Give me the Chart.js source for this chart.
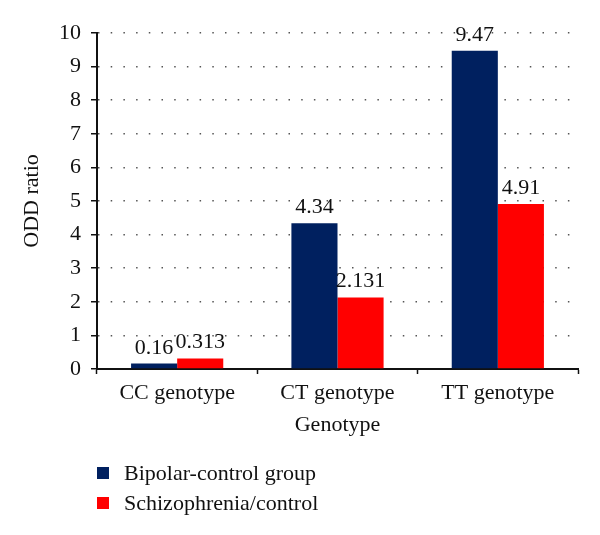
<!DOCTYPE html>
<html lang="en">
<head>
  <meta charset="UTF-8" />
  <title>ODD ratio by genotype</title>
  <script src="https://cdn.jsdelivr.net/npm/chart.js"></script>
  <style>
    body {
      margin: 0;
      background: #fff;
      font-family: 'Liberation Serif', serif;
    }
    #wrap {
      position: relative;
      width: 600px;
      height: 535px;
    }
    /* legend sits under the plot, one item per row */
    #legend {
      position: absolute;
      left: 97px;
      top: 458px;
      font-size: 22px;
      color: #111;
    }
    #legend .item {
      display: flex;
      align-items: center;
      height: 30px;
    }
    #legend .box {
      width: 12px;
      height: 12px;
      margin-right: 15px;
    }
  </style>
</head>
<body>
  <div id="wrap">
    <canvas id="oddChart" width="600" height="535"></canvas>
    <div id="legend"></div>
  </div>

  <script>
    const categories = ['CC genotype', 'CT genotype', 'TT genotype'];
    const seriesNames = ['Bipolar-control group', 'Schizophrenia/control'];
    const bipolarValues = [0.16, 4.34, 9.47];
    const schizoValues = [0.313, 2.131, 4.91];
    const valueLabels = [['0.16', '4.34', '9.47'], ['0.313', '2.131', '4.91']];
    const seriesColors = ['#00205f', '#ff0000'];

    const fontFamily = "'Liberation Serif', serif";

    // writes the value over each bar
    const barValues = {
      id: 'barValues',
      afterDatasetsDraw(chart) {
        const ctx = chart.ctx;
        ctx.save();
        ctx.font = '22px ' + fontFamily;
        ctx.fillStyle = '#111';
        ctx.textAlign = 'center';
        ctx.textBaseline = 'alphabetic';
        chart.data.datasets.forEach((ds, d) => {
          chart.getDatasetMeta(d).data.forEach((bar, i) => {
            ctx.fillText(valueLabels[d][i], bar.x, bar.y - 10);
          });
        });
        ctx.restore();
      }
    };

    const chart = new Chart(document.getElementById('oddChart'), {
      type: 'bar',
      data: {
        labels: categories,
        datasets: [
          { label: seriesNames[0], data: bipolarValues, backgroundColor: seriesColors[0] },
          { label: seriesNames[1], data: schizoValues, backgroundColor: seriesColors[1] }
        ]
      },
      options: {
        responsive: false,
        animation: false,
        layout: { padding: { left: 19, right: 22, top: 33, bottom: 94 } },
        datasets: {
          bar: { categoryPercentage: 0.575, barPercentage: 1 }
        },
        plugins: {
          legend: { display: false },
          tooltip: { enabled: false }
        },
        scales: {
          x: {
            afterFit(scale) { scale.height = 72; },
            grid: {
              drawOnChartArea: false,
              tickLength: 5,
              tickColor: '#111',
              tickWidth: 1.5
            },
            border: { color: '#111', width: 2 },
            ticks: {
              color: '#111',
              padding: 6,
              font: { family: fontFamily, size: 22 }
            },
            title: {
              display: true,
              text: 'Genotype',
              color: '#111',
              padding: { top: 0, bottom: 3 },
              font: { family: fontFamily, size: 22 }
            }
          },
          y: {
            min: 0,
            max: 10,
            afterFit(scale) { scale.width = 78; },
            grid: {
              color: '#555',
              lineWidth: 1.5,
              tickLength: 6,
              tickColor: '#111',
              tickWidth: 1.5
            },
            border: { color: '#111', width: 2, dash: [1.5, 11.2] },
            ticks: {
              stepSize: 1,
              color: '#111',
              padding: 10,
              font: { family: fontFamily, size: 22 }
            },
            title: {
              display: true,
              text: 'ODD ratio',
              color: '#111',
              padding: 0,
              font: { family: fontFamily, size: 22 }
            }
          }
        }
      },
      plugins: [barValues]
    });

    // legend built from the same series arrays
    const legendDiv = document.getElementById('legend');
    seriesNames.forEach((name, i) => {
      const item = document.createElement('div');
      item.className = 'item';
      const box = document.createElement('span');
      box.className = 'box';
      box.style.background = seriesColors[i];
      const txt = document.createElement('span');
      txt.textContent = name;
      item.appendChild(box);
      item.appendChild(txt);
      legendDiv.appendChild(item);
    });
  </script>
</body>
</html>
